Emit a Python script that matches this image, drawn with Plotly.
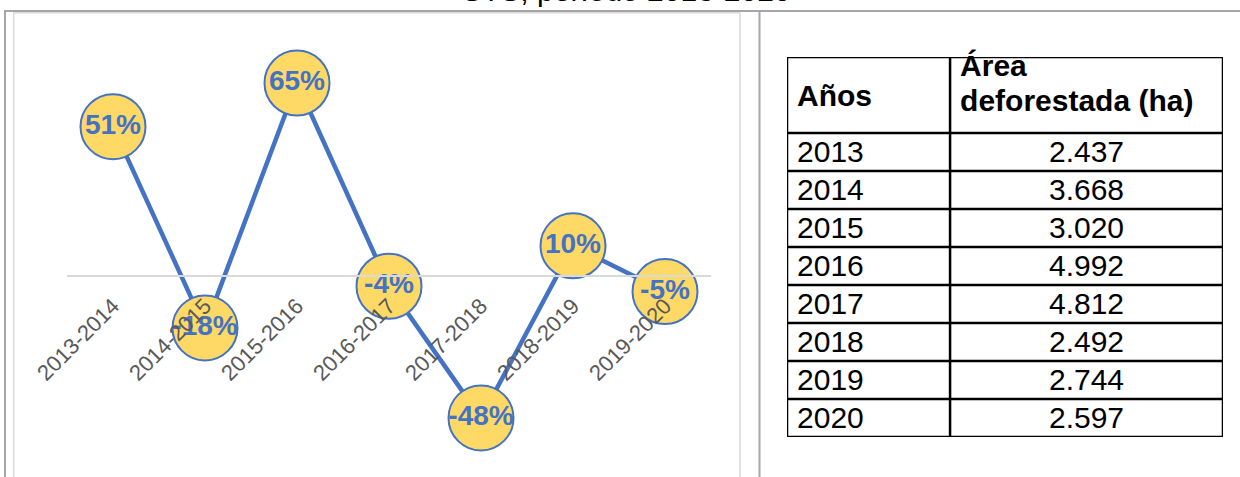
import plotly.graph_objects as go

# ---------------- data ----------------
periods = ["2013-2014", "2014-2015", "2015-2016", "2016-2017",
           "2017-2018", "2018-2019", "2019-2020"]
change_pct = [50.5, -17.7, 65.3, -3.6, -48.2, 10.1, -5.4]
change_labels = ["51%", "-18%", "65%", "-4%", "-48%", "10%", "-5%"]

years = ["2013", "2014", "2015", "2016", "2017", "2018", "2019", "2020"]
area_ha = ["2.437", "3.668", "3.020", "4.992", "4.812", "2.492", "2.744", "2.597"]
header_years = "Años"
header_area_lines = ["Área", "deforestada (ha)"]

title_text = "STS, período 2013-2020"

# ---------------- layout constants ----------------
W, H = 1240, 477
ML, MR, MT, MB = 67, 17, 57, 24
PW = W - ML - MR
PH = H - MT - MB
BLUE = "#4472C4"
YELLOW = "#FFD966"
Y_RANGE = [-60.1, 74.1]


def px_x(px):
    return (px - ML) / PW


def px_y(py):
    return (H - MB - py) / PH


fig = go.Figure()

# ---------------- line chart ----------------
fig.add_trace(go.Scatter(
    x=periods, y=change_pct, text=change_labels,
    mode="lines+markers+text",
    line=dict(color=BLUE, width=4.5),
    marker=dict(size=65, color=YELLOW, line=dict(color=BLUE, width=2)),
    textposition="middle center",
    textfont=dict(family="Liberation Sans", size=28, color=BLUE, weight="bold"),
    cliponaxis=False, hoverinfo="skip",
    xaxis="x", yaxis="y",
))

# ---------------- table (on its own axes) ----------------
COL_SPLIT = 0.374
HEADER_ROWS = 2
n_rows = len(years)
row_centers = [HEADER_ROWS + 0.57 + i for i in range(n_rows)]
pad = 0.023

fig.add_trace(go.Scatter(
    x=[pad] * n_rows, y=row_centers, text=years, mode="text",
    textposition="middle right",
    textfont=dict(family="Liberation Sans", size=30, color="black"),
    cliponaxis=False, hoverinfo="skip", xaxis="x2", yaxis="y2",
))
fig.add_trace(go.Scatter(
    x=[(COL_SPLIT + 1) / 2] * n_rows, y=row_centers, text=area_ha, mode="text",
    textposition="middle center",
    textfont=dict(family="Liberation Sans", size=30, color="black"),
    cliponaxis=False, hoverinfo="skip", xaxis="x2", yaxis="y2",
))
fig.add_trace(go.Scatter(
    x=[pad, COL_SPLIT + pad, COL_SPLIT + pad],
    y=[1.08, 0.3, 1.22],
    text=[header_years] + header_area_lines, mode="text",
    textposition="middle right",
    textfont=dict(family="Liberation Sans", size=30, color="black", weight="bold"),
    cliponaxis=False, hoverinfo="skip", xaxis="x2", yaxis="y2",
))

shapes = []
total_rows = HEADER_ROWS + n_rows
for yb in [0, HEADER_ROWS] + [HEADER_ROWS + i + 1 for i in range(n_rows)]:
    shapes.append(dict(type="line", xref="x2", yref="y2", x0=0, x1=1, y0=yb, y1=yb,
                       line=dict(color="black", width=2.5), layer="above"))
for xb in [0, COL_SPLIT, 1]:
    shapes.append(dict(type="line", xref="x2", yref="y2", x0=xb, x1=xb, y0=0, y1=total_rows,
                       line=dict(color="black", width=2.5), layer="above"))

# ---------------- frame decoration ----------------
DARK = "#A6A6A6"
LIGHT = "#D9D9D9"
shapes += [
    dict(type="line", xref="paper", yref="paper", x0=px_x(4), x1=px_x(W + 5),
         y0=px_y(11), y1=px_y(11), line=dict(color=DARK, width=2)),
    dict(type="line", xref="paper", yref="paper", x0=px_x(5), x1=px_x(5),
         y0=px_y(10), y1=px_y(H + 5), line=dict(color=DARK, width=2)),
    dict(type="line", xref="paper", yref="paper", x0=px_x(759.5), x1=px_x(759.5),
         y0=px_y(10), y1=px_y(H + 5), line=dict(color=DARK, width=2)),
    dict(type="line", xref="paper", yref="paper", x0=px_x(13.5), x1=px_x(740),
         y0=px_y(12.7), y1=px_y(12.7), line=dict(color=LIGHT, width=1.5)),
    dict(type="line", xref="paper", yref="paper", x0=px_x(13.7), x1=px_x(13.7),
         y0=px_y(12.5), y1=px_y(H + 5), line=dict(color=LIGHT, width=1.5)),
    dict(type="line", xref="paper", yref="paper", x0=px_x(740), x1=px_x(740),
         y0=px_y(12.5), y1=px_y(H + 5), line=dict(color=LIGHT, width=1.5)),
]

fig.update_layout(
    width=W, height=H,
    margin=dict(l=ML, r=MR, t=MT, b=MB, pad=0),
    paper_bgcolor="white", plot_bgcolor="white",
    showlegend=False,
    shapes=shapes,
    annotations=[dict(text=title_text, xref="paper", yref="paper",
                      x=px_x(626), y=px_y(-9.5), xanchor="center", yanchor="middle",
                      showarrow=False,
                      font=dict(family="Liberation Sans", size=30, color="black"))],
    xaxis=dict(domain=[0, px_x(711)], range=[-0.5, len(periods) - 0.5],
               anchor="free",
               position=(0 - Y_RANGE[0]) / (Y_RANGE[1] - Y_RANGE[0]),
               showline=True, linecolor=LIGHT, linewidth=1.5,
               showgrid=False, zeroline=False, ticks="",
               tickangle=-45, ticklabelstandoff=8,
               tickfont=dict(family="Liberation Sans", size=22, color="#595959")),
    yaxis=dict(domain=[0, 1], range=Y_RANGE, visible=False),
    xaxis2=dict(domain=[px_x(787), 1], range=[0, 1], visible=False, anchor="y2"),
    yaxis2=dict(domain=[px_y(437), 1], range=[total_rows, 0], visible=False, anchor="x2"),
)

fig.write_html("out.html", config={"displayModeBar": False},
               post_script="document.body.style.margin='0';")
